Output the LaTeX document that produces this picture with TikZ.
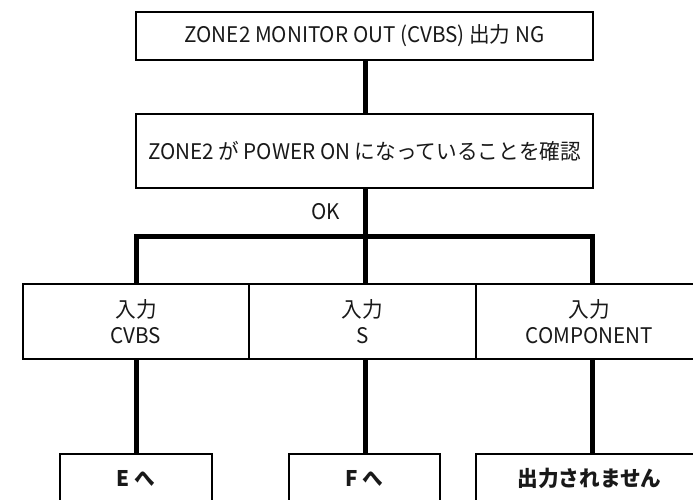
\documentclass[tikz,border=0pt]{standalone}
\usepackage{fontspec}
\setmainfont{Noto Sans CJK JP}[FakeStretch=0.96]
\begin{document}
\begin{tikzpicture}[x=1pt,y=-1pt,
  box/.style={draw=black,line width=1.6pt,fill=white,inner sep=0pt,align=center,
    font=\fontsize{21.5}{26}\selectfont,text=black!90},
  endbox/.style={box,font=\fontsize{21.5}{26}\selectfont\bfseries},
  link/.style={line width=5pt,black}]
\clip (0,0) rectangle (693,500);
\fill[white] (0,0) rectangle (693,500);
\node[box,minimum width=457pt,minimum height=48pt] (top) at (364.5,36) {ZONE2 MONITOR OUT (CVBS) 出力 NG};
\node[box,minimum width=457pt,minimum height=74pt] (chk) at (364.5,151) {ZONE2 が POWER ON になっていることを確認};
\node[box,minimum width=226pt,minimum height=75pt] (cvbs) at (136,321.5) {入力\\CVBS};
\node[box,minimum width=227pt,minimum height=75pt] (s) at (362.5,321.5) {入力\\S};
\node[box,minimum width=227pt,minimum height=75pt] (comp) at (589.5,321.5) {入力\\COMPONENT};
\node[endbox,minimum width=152pt,minimum height=48pt] (e) at (136,478) {E へ};
\node[endbox,minimum width=151pt,minimum height=48pt] (f) at (364.5,478) {F へ};
\node[endbox,minimum width=227pt,minimum height=48pt] (ng) at (589.5,478) {出力されません};
\node[font=\fontsize{21.5}{26}\selectfont,text=black!90,inner sep=0pt] (ok) at (326,212) {OK};
\coordinate (bar) at (365,236);
\coordinate (barL) at (136,236);
\coordinate (barR) at (592,236);
\draw[link] (top.south -| bar) -- (chk.north -| bar);
\draw[link] (chk.south -| bar) -- (bar);
\draw[link,line cap=rect] (barL) -- (barR);
\draw[link] (barL) -- (cvbs.north -| barL);
\draw[link] (bar) -- (s.north -| bar);
\draw[link] (barR) -- (comp.north -| barR);
\draw[link] (cvbs.south) -- (e.north);
\draw[link] (s.south -| bar) -- (f.north -| bar);
\draw[link] (comp.south -| barR) -- (ng.north -| barR);
\end{tikzpicture}
\end{document}
